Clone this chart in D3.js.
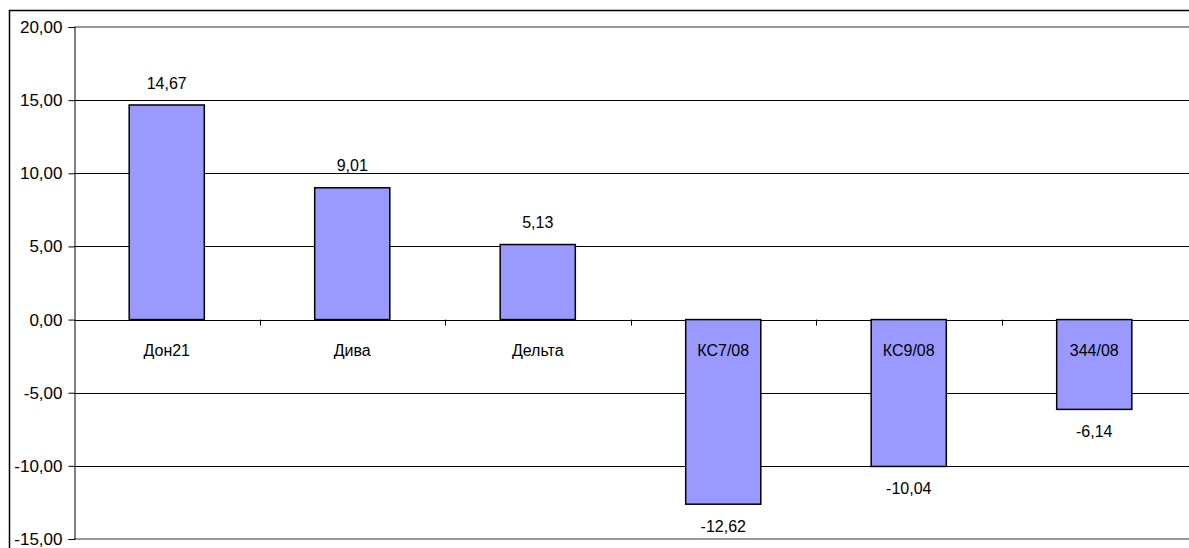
<!DOCTYPE html>
<html>
<head>
<meta charset="utf-8">
<script src="https://cdn.jsdelivr.net/npm/d3@7"></script>
<style>
  html, body { margin: 0; padding: 0; background: #fff; }
  svg { display: block; font-family: "Liberation Sans", Arial, sans-serif; }
</style>
</head>
<body>
<svg id="chart" width="1189" height="548"></svg>
<script>
// Categories and their values
const categories = ["Дон21", "Дива", "Дельта", "КС7/08", "КС9/08", "344/08"];
const values = [14.67, 9.01, 5.13, -12.62, -10.04, -6.14];
const yTicks = [20, 15, 10, 5, 0, -5, -10, -15];

const fmt = v => v.toFixed(2).replace(".", ",");

const svg = d3.select("#chart");
const plotLeft = 74, plotRight = 1187, plotTop = 27, plotBottom = 539;

const x = d3.scaleBand().domain(categories).range([plotLeft, plotRight]).paddingInner(0.595).paddingOuter(0.2975);
const y = d3.scaleLinear().domain([-15, 20]).range([plotBottom, plotTop]);

// Outer frame (top and left edges visible)
svg.append("rect")
  .attr("x", 9.5).attr("y", 10.5)
  .attr("width", 1300).attr("height", 600)
  .attr("fill", "none").attr("stroke", "#000").attr("stroke-width", 1.5);

// Plot area top/bottom boundaries
[20, -15].forEach(v => {
  svg.append("line")
    .attr("x1", plotLeft).attr("x2", 1189)
    .attr("y1", y(v)).attr("y2", y(v))
    .attr("stroke", "#999").attr("stroke-width", 2);
});

// Horizontal gridlines
svg.append("g").selectAll("line")
  .data(yTicks.filter(v => v !== 20 && v !== -15))
  .join("line")
  .attr("x1", plotLeft).attr("x2", 1189)
  .attr("y1", d => Math.round(y(d)) + 0.5).attr("y2", d => Math.round(y(d)) + 0.5)
  .attr("stroke", "#000").attr("stroke-width", 1);

// Y axis
const yAxis = d3.axisLeft(y).tickValues(yTicks).tickFormat(fmt).tickSize(6).tickPadding(6);
const gy = svg.append("g").attr("transform", `translate(${plotLeft + 0.5},0)`).call(yAxis);
gy.select(".domain").attr("stroke", "#000");
gy.selectAll(".tick line").attr("stroke", "#000");
gy.selectAll(".tick text").attr("font-size", 17).attr("fill", "#000")
  .attr("font-family", "Liberation Sans, Arial, sans-serif");

// Category tick marks on the zero line (between bands)
const bandStep = x.step();
svg.append("g").selectAll("line")
  .data(categories.slice(1))
  .join("line")
  .attr("x1", d => Math.round(x(d) - (bandStep - x.bandwidth()) / 2) + 0.5)
  .attr("x2", d => Math.round(x(d) - (bandStep - x.bandwidth()) / 2) + 0.5)
  .attr("y1", y(0)).attr("y2", y(0) + 6)
  .attr("stroke", "#000");

// Bars
svg.append("g").selectAll("rect")
  .data(values)
  .join("rect")
  .attr("x", (d, i) => x(categories[i]))
  .attr("width", x.bandwidth())
  .attr("y", d => y(Math.max(0, d)))
  .attr("height", d => Math.abs(y(d) - y(0)))
  .attr("fill", "#9999FF")
  .attr("stroke", "#000")
  .attr("stroke-width", 1.5);

// Value labels
svg.append("g").selectAll("text")
  .data(values)
  .join("text")
  .attr("x", (d, i) => x(categories[i]) + x.bandwidth() / 2)
  .attr("y", d => d >= 0 ? y(d) - 22 : y(d) + 22)
  .attr("dy", "0.35em")
  .attr("text-anchor", "middle")
  .attr("font-size", 16)
  .text(fmt);

// Category labels
svg.append("g").selectAll("text")
  .data(categories)
  .join("text")
  .attr("x", d => x(d) + x.bandwidth() / 2)
  .attr("y", 350)
  .attr("dy", "0.35em")
  .attr("text-anchor", "middle")
  .attr("font-size", 16)
  .text(d => d);
</script>
</body>
</html>
